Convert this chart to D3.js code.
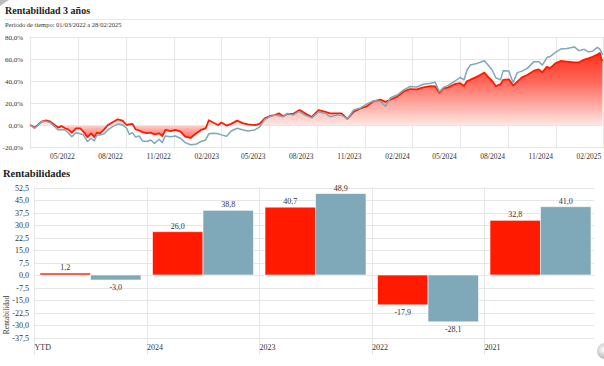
<!DOCTYPE html>
<html><head><meta charset="utf-8">
<script src="https://cdn.jsdelivr.net/npm/d3@7"></script>
<style>
html,body{margin:0;padding:0;background:#fff;overflow:hidden}
svg{display:block;font-family:"Liberation Serif","DejaVu Serif",serif}
</style></head>
<body><svg id="c" width="604" height="366"></svg>
<script>
// ---------- DATA ----------
const dates = ["2022-03-01","2022-03-10","2022-03-23","2022-04-01","2022-04-09","2022-04-16","2022-04-24","2022-04-30","2022-05-07","2022-05-13","2022-05-20","2022-05-28","2022-06-05","2022-06-11","2022-06-19","2022-06-26","2022-07-02","2022-07-07","2022-07-13","2022-07-21","2022-07-28","2022-08-06","2022-08-16","2022-08-25","2022-09-02","2022-09-07","2022-09-13","2022-09-19","2022-09-26","2022-10-02","2022-10-11","2022-10-18","2022-10-25","2022-11-03","2022-11-09","2022-11-15","2022-11-25","2022-12-04","2022-12-14","2022-12-23","2023-01-02","2023-01-12","2023-01-22","2023-01-31","2023-02-06","2023-02-15","2023-02-24","2023-03-02","2023-03-12","2023-03-21","2023-04-01","2023-04-13","2023-04-22","2023-05-05","2023-05-14","2023-05-24","2023-06-03","2023-06-12","2023-06-20","2023-06-28","2023-07-06","2023-07-17","2023-07-27","2023-07-30","2023-08-09","2023-08-22","2023-09-04","2023-09-17","2023-09-26","2023-10-09","2023-10-18","2023-10-29","2023-11-10","2023-11-23","2023-12-05","2023-12-18","2023-12-31","2024-01-10","2024-01-19","2024-02-02","2024-02-14","2024-02-26","2024-03-10","2024-03-22","2024-04-05","2024-04-14","2024-04-22","2024-04-30","2024-05-09","2024-05-22","2024-06-01","2024-06-08","2024-06-14","2024-06-20","2024-07-03","2024-07-09","2024-07-17","2024-07-25","2024-08-01","2024-08-08","2024-08-17","2024-08-22","2024-09-02","2024-09-10","2024-09-18","2024-09-27","2024-10-07","2024-10-20","2024-10-29","2024-11-05","2024-11-14","2024-11-19","2024-11-30","2024-12-10","2024-12-22","2025-01-05","2025-01-14","2025-01-24","2025-02-01","2025-02-09","2025-02-18","2025-02-23","2025-02-26","2025-02-28"];
const fundSeries = [0,-2.4,3,4.2,3,0.5,-2.4,-1,-3,-4,-7,-3,-3,-6,-11,-7.6,-11,-7,-7.6,-4,0,2.5,5.2,4,0,0.5,1,-4,-5,-6.5,-7.3,-7,-8.5,-7.6,-10,-4.5,-5.5,-4.5,-6,-10.6,-11.8,-8,-4.5,-3,4.3,2,0,2.2,-0.5,1,4,1.5,0.5,-0.2,1,6,8.2,9,10.6,8,10,10,13,13.6,10.6,7.3,13.6,12,10.6,10.6,10.6,5.5,12,15,17,21.5,23,21,23,26,30.5,32.7,32.4,34.2,35.4,35,29.4,33.3,34.2,37.3,38,35.4,40,41,44,45.5,47.6,43.3,40,35.4,37,41,41.5,35.8,39.4,43.3,45.5,49.4,50.6,48,53,51.5,56,58.2,57.6,57,57,59.4,60.5,62,64,65.5,60,58.5];
const benchSeries = [0,-3,3,3.3,2,-1,-4.5,-4,-4.5,-7,-10.6,-7,-8,-9,-15,-12,-14.5,-9,-9,-8,-4.5,-1.5,1,0.3,-3,-8.5,-7,-11,-10,-14.5,-15,-13.6,-16.7,-13,-16,-10,-10.6,-10,-12,-16,-18,-17.6,-15,-13.6,-8,-7.6,-8,-9,-10.3,-5.5,-3,-4.5,-5.5,-4.5,-2,5,7.6,9,8.5,7.5,10.5,9,12,12,9,6.5,12,10.5,7.5,9,9,5.5,13.6,15.5,19,22,21.5,17,24.5,27.5,32,35,34.5,37,38,38.8,30.3,34.2,36,40,43.3,41,50,54.5,56,57,58.5,54,50,43,41,49.4,49,38.5,47.6,49,51.5,57.6,57.6,54.5,61.5,62,66,69,69.5,71,67.6,68.8,66.5,67,70.6,69,66,63.6];
const topYTicks = [-20,0,20,40,60,80];
const topXTickDates = ["2022-05-01","2022-08-01","2022-11-01","2023-02-01","2023-05-01","2023-08-01","2023-11-01","2024-02-01","2024-05-01","2024-08-01","2024-11-01","2025-02-01"];
const topGridDates = ["2022-03-01","2022-06-01","2022-09-01","2022-12-01","2023-03-01","2023-06-01","2023-09-01","2023-12-01","2024-03-01","2024-06-01","2024-09-01","2024-12-01","2025-03-01"];

const categories = ["YTD","2024","2023","2022","2021"];
const fundReturns = [1.2, 26.0, 40.7, -17.9, 32.8];
const benchReturns = [-3.0, 38.8, 48.9, -28.1, 41.0];
const bottomYTicks = [-37.5,-30,-22.5,-15,-7.5,0,7.5,15,22.5,30,37.5,45,52.5];

// ---------- SETUP ----------
const locale = d3.formatLocale({decimal:",", thousands:".", grouping:[3], currency:["","€"], minus:"-"});
const f1 = locale.format(".1f");
const parse = d3.timeParse("%Y-%m-%d");
const svg = d3.select("#c");
const RED = "#ff1a00", BLUE = "#7fa8b8", GRID = "#e6e6e6", TXT = "#333";

// corner decoration
svg.append("path").attr("d","M0,6 L9,0 L0,0 Z").attr("fill","#bbb");

// ---------- TOP CHART ----------
svg.append("text").attr("x",5).attr("y",14).attr("font-size",10).attr("font-weight","bold").attr("fill","#222").text("Rentabilidad 3 años");
svg.append("line").attr("x1",4).attr("x2",604).attr("y1",19.5).attr("y2",19.5).attr("stroke","#e8e8e8");
svg.append("text").attr("x",5).attr("y",27).attr("font-size",6.5).attr("fill","#333").text("Periodo de tiempo: 01/03/2022 a 28/02/2025");

const xT = d3.scaleTime().domain([parse("2022-03-01"), parse("2025-03-01")]).range([30, 603]);
const yT = d3.scaleLinear().domain([-20, 80]).range([147, 37]);

const gTop = svg.append("g");
gTop.selectAll("line.hg").data(topYTicks).join("line")
  .attr("x1",30).attr("x2",603).attr("y1",d=>yT(d)+0.5).attr("y2",d=>yT(d)+0.5).attr("stroke",GRID);
gTop.selectAll("line.vg").data(topGridDates).join("line")
  .attr("x1",d=>Math.round(xT(parse(d)))+0.5).attr("x2",d=>Math.round(xT(parse(d)))+0.5)
  .attr("y1",37).attr("y2",149).attr("stroke",GRID);

const yAxTop = d3.axisLeft(yT).tickValues(topYTicks).tickSize(0).tickFormat(d=>f1(d)+"%");
const ya = gTop.append("g").attr("transform","translate(23,0)").call(yAxTop);
ya.select(".domain").remove();
ya.selectAll("text").attr("font-size",7).attr("fill",TXT).attr("font-family","Liberation Serif").attr("x",0);

const xAxTop = d3.axisBottom(xT).tickValues(topXTickDates.map(parse)).tickSize(0).tickFormat(d3.timeFormat("%m/%Y"));
const xa = gTop.append("g").attr("transform","translate(0,149)").call(xAxTop);
xa.select(".domain").remove();
xa.selectAll("text").attr("font-size",7.5).attr("fill",TXT).attr("font-family","Liberation Serif").attr("dy","0.9em");

const defs = svg.append("defs");
const grad = defs.append("linearGradient").attr("id","ag").attr("gradientUnits","userSpaceOnUse")
  .attr("x1",0).attr("x2",0).attr("y1",yT(70)).attr("y2",yT(-15));
const z = (yT(0)-yT(70))/(yT(-15)-yT(70));
grad.append("stop").attr("offset",0).attr("stop-color","#ff2614");
grad.append("stop").attr("offset",z*0.45).attr("stop-color","#ff6a5c");
grad.append("stop").attr("offset",z).attr("stop-color","#ffe6e3");
grad.append("stop").attr("offset",Math.min(1,z+0.02)).attr("stop-color","#ffc4bf");
grad.append("stop").attr("offset",1).attr("stop-color","#ff4a40");

const fundData = dates.map((d,i)=>({d:parse(d), v:fundSeries[i]}));
const benchData = dates.map((d,i)=>({d:parse(d), v:benchSeries[i]}));

gTop.append("path").datum(fundData)
  .attr("d", d3.area().x(p=>xT(p.d)).y0(yT(0)).y1(p=>yT(p.v)))
  .attr("fill","url(#ag)");
gTop.append("path").datum(fundData)
  .attr("d", d3.line().x(p=>xT(p.d)).y(p=>yT(p.v)))
  .attr("fill","none").attr("stroke",RED).attr("stroke-width",1.8).attr("stroke-linejoin","round");
gTop.append("path").datum(benchData)
  .attr("d", d3.line().x(p=>xT(p.d)).y(p=>yT(p.v)))
  .attr("fill","none").attr("stroke",BLUE).attr("stroke-width",1.5).attr("stroke-linejoin","round");

// ---------- BOTTOM CHART ----------
svg.append("text").attr("x",3).attr("y",177).attr("font-size",10.5).attr("font-weight","bold").attr("fill","#222").text("Rentabilidades");

const xB = d3.scaleBand().domain(categories).range([34, 596.5]).padding(0);
const xInner = d3.scaleBand().domain(["fund","bench"]).range([6, xB.bandwidth()-5.5]).padding(0);
const yB = d3.scaleLinear().domain([-37.5, 52.5]).range([337.5, 187.5]);

const gB = svg.append("g");
gB.selectAll("line.hg").data(bottomYTicks).join("line")
  .attr("x1",34).attr("x2",594).attr("y1",d=>Math.round(yB(d))+0.5).attr("y2",d=>Math.round(yB(d))+0.5).attr("stroke",GRID);
gB.selectAll("line.vg").data(categories).join("line")
  .attr("x1",d=>Math.round(xB(d))+0.5).attr("x2",d=>Math.round(xB(d))+0.5)
  .attr("y1",187).attr("y2",355).attr("stroke",GRID);

const yAxB = d3.axisLeft(yB).tickValues(bottomYTicks).tickSize(0).tickFormat(f1);
const yb = gB.append("g").attr("transform","translate(29,0)").call(yAxB);
yb.select(".domain").remove();
yb.selectAll("text").attr("font-size",8).attr("fill",TXT).attr("font-family","Liberation Serif").attr("x",0);

const xAxB = d3.axisBottom(xB).tickSize(0);
const xb = gB.append("g").attr("transform","translate(0,341)").call(xAxB);
xb.select(".domain").remove();
xb.selectAll(".tick").attr("transform", d=>`translate(${xB(d)},0)`);
xb.selectAll("text").attr("font-size",8).attr("fill",TXT).attr("font-family","Liberation Serif")
  .attr("text-anchor","start").attr("x",0.5).attr("dy","0.71em");

svg.append("text").attr("transform","translate(9,315) rotate(-90)").attr("text-anchor","middle")
  .attr("font-size",7.5).attr("fill",TXT).text("Rentabilidad");

const rows = categories.map((c,i)=>[{c,k:"fund",v:fundReturns[i]},{c,k:"bench",v:benchReturns[i]}]).flat();
gB.selectAll("rect.bar").data(rows).join("rect")
  .attr("x",d=>xB(d.c)+xInner(d.k)).attr("width",xInner.bandwidth())
  .attr("y",d=>yB(Math.max(0,d.v))).attr("height",d=>Math.abs(yB(d.v)-yB(0)))
  .attr("fill",d=>d.k==="fund"?RED:BLUE).attr("stroke","#ffffff").attr("stroke-opacity",0.6).attr("stroke-width",1);
gB.selectAll("text.val").data(rows).join("text")
  .attr("x",d=>xB(d.c)+xInner(d.k)+xInner.bandwidth()/2)
  .attr("y",d=>d.v>=0 ? yB(d.v)-3 : yB(d.v)+10)
  .attr("text-anchor","middle").attr("font-size",8).attr("fill",TXT).text(d=>f1(d.v));

// bottom-right button decoration
const rg = defs.append("radialGradient").attr("id","bg").attr("cx","0.4").attr("cy","0.4").attr("r","0.7");
rg.append("stop").attr("offset",0).attr("stop-color","#ffffff");
rg.append("stop").attr("offset",1).attr("stop-color","#a8a8a8");
svg.append("circle").attr("cx",605).attr("cy",351).attr("r",8).attr("fill","url(#bg)");
</script></body></html>
